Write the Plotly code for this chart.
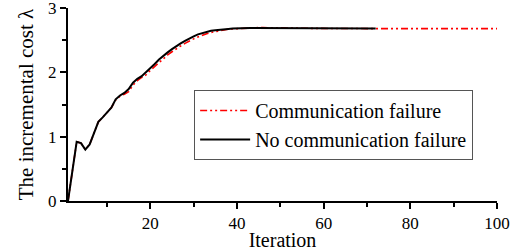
import plotly.graph_objects as go

iterations_black = list(range(1, 73))
black_vals = [0, 0.5, 0.92, 0.9, 0.8, 0.88, 1.05, 1.23, 1.3, 1.37,
              1.45, 1.58, 1.64, 1.68, 1.74, 1.84, 1.9, 1.94, 2.0, 2.07,
              2.13, 2.2, 2.26, 2.31, 2.36, 2.41, 2.45, 2.49, 2.53, 2.56,
              2.59, 2.61, 2.63, 2.645, 2.655, 2.665, 2.67, 2.675, 2.68, 2.685,
              2.687, 2.689, 2.69, 2.69, 2.69, 2.69, 2.69, 2.69, 2.69, 2.69,
              2.69, 2.69, 2.69, 2.688, 2.688, 2.687, 2.687, 2.686, 2.686, 2.685,
              2.685, 2.684, 2.684, 2.683, 2.683, 2.682, 2.682, 2.681, 2.681, 2.68,
              2.68, 2.68]

iterations_red = list(range(1, 101))
red_vals = [0, 0.5, 0.92, 0.9, 0.8, 0.88, 1.05, 1.23, 1.3, 1.37,
            1.45, 1.57, 1.63, 1.66, 1.7, 1.8, 1.87, 1.92, 1.96, 2.03,
            2.09, 2.16, 2.21, 2.27, 2.32, 2.37, 2.41, 2.45, 2.49, 2.52,
            2.55, 2.58, 2.6, 2.62, 2.635, 2.65, 2.66, 2.67, 2.675, 2.68,
            2.685, 2.69, 2.693, 2.695, 2.695, 2.695, 2.695, 2.694, 2.693, 2.692,
            2.69, 2.689, 2.688, 2.687, 2.686, 2.685, 2.684, 2.683, 2.682, 2.682,
            2.681, 2.681, 2.68, 2.68, 2.68, 2.68, 2.68, 2.68, 2.68, 2.68,
            2.68, 2.68, 2.68, 2.68, 2.68, 2.68, 2.68, 2.68, 2.68, 2.68,
            2.68, 2.68, 2.68, 2.68, 2.68, 2.68, 2.68, 2.68, 2.68, 2.68,
            2.68, 2.68, 2.68, 2.68, 2.68, 2.68, 2.68, 2.68, 2.68, 2.68]

y_tick_vals = [0, 1, 2, 3]
x_tick_vals = [20, 40, 60, 80, 100]

font_family = "Liberation Serif"

fig = go.Figure()
fig.add_trace(go.Scatter(
    x=iterations_red, y=red_vals, mode="lines", name="Communication failure",
    line=dict(color="#ff0000", width=1.6, dash="7px,3px,2px,3px,2px,3px"),
))
fig.add_trace(go.Scatter(
    x=iterations_black, y=black_vals, mode="lines", name="No communication failure",
    line=dict(color="black", width=2),
))

fig.update_layout(
    width=512, height=251,
    margin=dict(l=68, r=15, t=8, b=50),
    paper_bgcolor="white", plot_bgcolor="white",
    font=dict(family=font_family, size=17, color="black"),
    showlegend=True,
    legend=dict(
        x=0.294, y=0.575, xanchor="left", yanchor="top",
        bordercolor="#555555", borderwidth=1, bgcolor="white",
        font=dict(size=20, family=font_family),
        itemwidth=50, tracegroupgap=0,
    ),
)
fig.update_xaxes(
    range=[1, 100], tickmode="array", tickvals=x_tick_vals, automargin=False,
    ticklabeloverflow="allow",
    showline=True, linecolor="black", linewidth=2,
    ticks="outside", ticklen=6, tickwidth=2, tickcolor="black",
    minor=dict(dtick=10, tick0=0, ticks="outside", ticklen=4, tickwidth=2, tickcolor="black"),
    showgrid=False, zeroline=False,
    tickfont=dict(size=17, family=font_family),
    title=dict(text="Iteration", font=dict(size=20, family=font_family), standoff=0),
)
fig.update_yaxes(
    range=[0, 3], tickmode="array", tickvals=y_tick_vals, automargin=False,
    ticklabeloverflow="allow",
    showline=True, linecolor="black", linewidth=2,
    ticks="outside", ticklen=6, tickwidth=2, tickcolor="black",
    minor=dict(dtick=0.5, tick0=0, ticks="outside", ticklen=4, tickwidth=2, tickcolor="black"),
    showgrid=False, zeroline=False,
    tickfont=dict(size=17, family=font_family),
    title=dict(text="The incremental cost λ", font=dict(size=21, family=font_family), standoff=9),
)

fig.write_html("out.html", config={"displayModeBar": False},
               post_script="document.body.style.margin='0';")
